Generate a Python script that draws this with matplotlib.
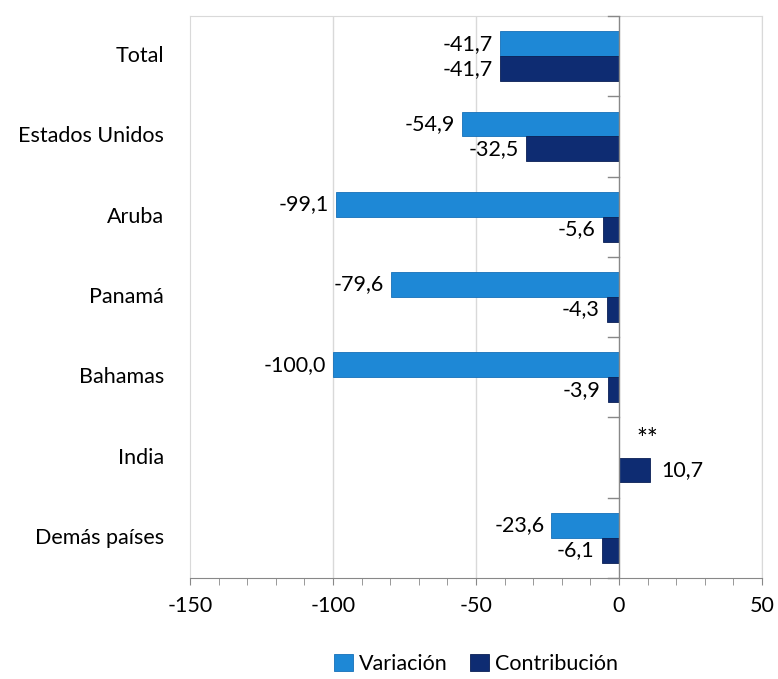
import matplotlib
matplotlib.use("Agg")
import matplotlib.pyplot as plt
import numpy as np
from matplotlib.ticker import MultipleLocator

categories = ["Total", "Estados Unidos", "Aruba", "Panamá", "Bahamas", "India", "Demás países"]
variacion = [-41.7, -54.9, -99.1, -79.6, -100.0, None, -23.6]
contribucion = [-41.7, -32.5, -5.6, -4.3, -3.9, 10.7, -6.1]
variacion_labels = ["-41,7", "-54,9", "-99,1", "-79,6", "-100,0", "**", "-23,6"]
contribucion_labels = ["-41,7", "-32,5", "-5,6", "-4,3", "-3,9", "10,7", "-6,1"]
x_ticks = [-150, -100, -50, 0, 50]

plt.rcParams['font.family'] = ['Lato', 'DejaVu Sans']
fig = plt.figure(figsize=(7.78, 6.79), dpi=100)
ax = fig.add_axes([0.2442, 0.1487, 0.7352, 0.8277])

c_var = "#1E88D6"
c_con = "#0E2C72"
h = 0.31
y = np.arange(len(categories))

var_vals = [v if v is not None else 0 for v in variacion]
bv = ax.barh(y - h/2, var_vals, height=h, color=c_var, edgecolor="#1670B8", linewidth=0.6, zorder=3)
bc = ax.barh(y + h/2, contribucion, height=h, color=c_con, edgecolor="#0A1F55", linewidth=0.6, zorder=3)
for i, v in enumerate(variacion):
    if v is None:
        bv[i].set_visible(False)

fs = 15.5
for i, v in enumerate(variacion):
    if v is None:
        ax.text(10, y[i] - h*0.7, variacion_labels[i], ha="center", va="center", fontsize=fs+3)
    else:
        ax.text(v - 2.5, y[i] - h/2, variacion_labels[i], ha="right", va="center", fontsize=fs)
for i, v in enumerate(contribucion):
    if v >= 0:
        ax.text(v + 4, y[i] + h/2, contribucion_labels[i], ha="left", va="center", fontsize=fs)
    else:
        ax.text(v - 2.5, y[i] + h/2, contribucion_labels[i], ha="right", va="center", fontsize=fs)

ax.set_xlim(-150, 50)
ax.set_ylim(len(categories) - 0.5, -0.5)
ax.set_xticks(x_ticks)
ax.set_xticklabels([str(t) for t in x_ticks], fontsize=fs)
ax.xaxis.set_minor_locator(MultipleLocator(10))
ax.tick_params(axis="x", which="both", direction="out", length=5, color="#888888", pad=8)
ax.set_yticks([])
for xg in [-100, -50, 50]:
    ax.axvline(xg, color="#D9D9D9", linewidth=1, zorder=0)
ax.axvline(0, color="#888888", linewidth=1, zorder=4)
# category tick marks on zero axis
for b in np.arange(-0.5, len(categories), 1.0):
    ax.plot([-4, 0], [b, b], color="#888888", linewidth=1, zorder=4, clip_on=False)

for s in ["top", "right", "left"]:
    ax.spines[s].set_color("#D9D9D9")
ax.spines["bottom"].set_color("#888888")

for i, c in enumerate(categories):
    ax.text(-0.045, y[i], c, transform=ax.get_yaxis_transform(), ha="right", va="center", fontsize=fs)

leg = ax.legend([bv, bc], ["Variación", "Contribución"], loc="upper center",
                bbox_to_anchor=(0.5, -0.1), ncol=2, frameon=False, fontsize=fs,
                handlelength=0.9, handleheight=0.9, handletextpad=0.3, columnspacing=1.0)

fig.savefig("out.png", dpi=100, facecolor="white")
